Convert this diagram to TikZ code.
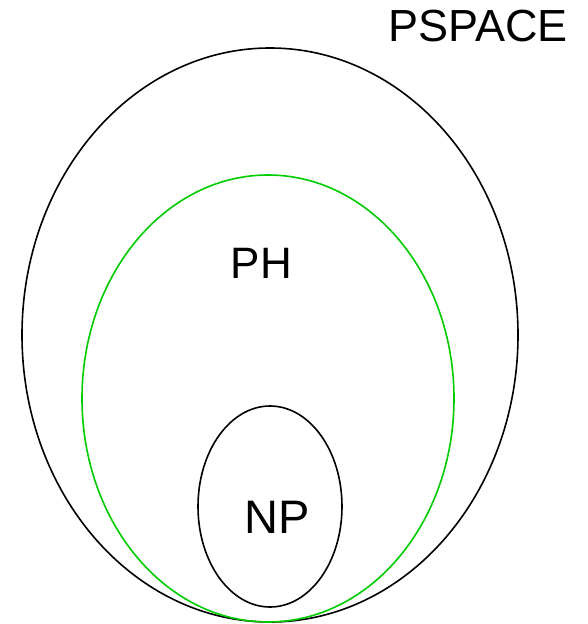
\documentclass[tikz,border=0pt]{standalone}
\usepackage{fontspec}
\setmainfont{Liberation Sans}
\definecolor{phgreen}{RGB}{0,204,0}
\begin{document}
\begin{tikzpicture}[x=1pt,y=-1pt,
  ring/.style={draw=black,line width=1.6pt,fill=none},
  lab/.style={anchor=base,inner sep=0pt}]
\useasboundingbox (0,0) rectangle (587,624);
\draw[ring] (270,335) ellipse [x radius=248, y radius=287];
\draw[ring,draw=phgreen] (268,398.5) ellipse [x radius=186, y radius=223.5];
\draw[ring] (270,506.5) ellipse [x radius=72, y radius=100.5];
\node[lab,font=\fontsize{45}{52}\selectfont] (pspace) at (478,41) {PSPACE};
\node[lab,font=\fontsize{44}{50}\selectfont] (ph) at (261.5,278.5) {PH};
\node[lab,font=\fontsize{47}{54}\selectfont] (np) at (277,533.5) {NP};
\end{tikzpicture}
\end{document}
